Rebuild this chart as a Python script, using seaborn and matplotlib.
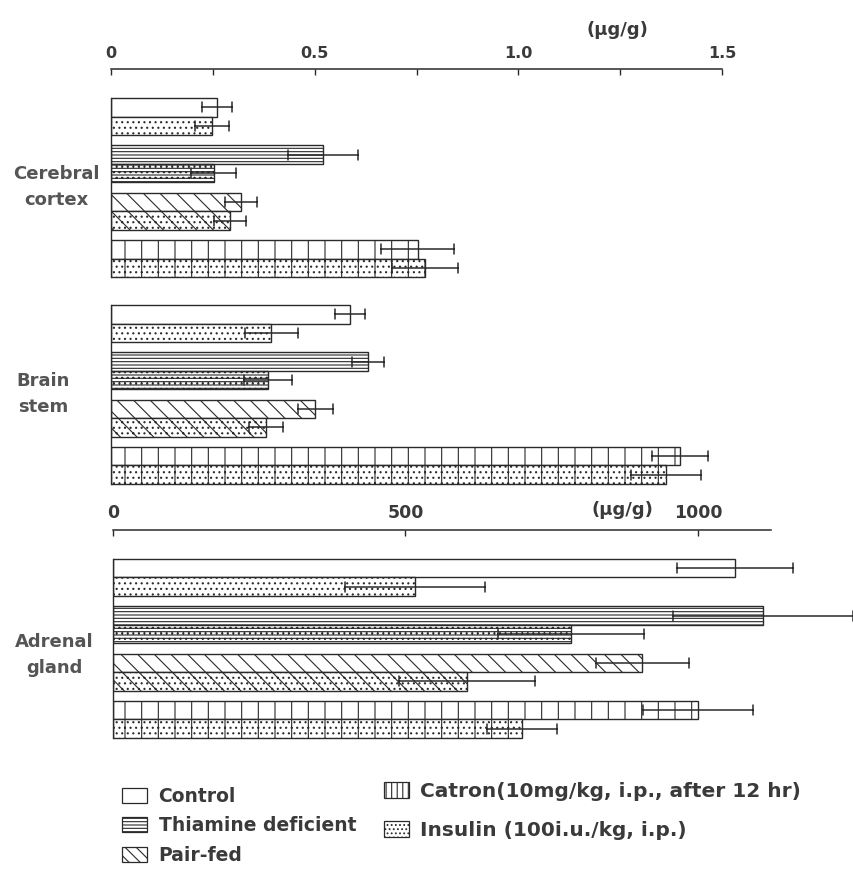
import numpy as np
import pandas as pd
import matplotlib
matplotlib.use("Agg")
import matplotlib.pyplot as plt
import seaborn as sns
from matplotlib.patches import Patch

# ---------------- data ----------------
treatments = ["Control", "Thiamine deficient", "Pair-fed", "Catron"]
insulin_levels = ["none", "Insulin"]

cortex_mean = [0.260, 0.520, 0.320, 0.753]
cortex_se = [0.037, 0.086, 0.039, 0.090]
cortex_ins_mean = [0.247, 0.252, 0.292, 0.770]
cortex_ins_se = [0.042, 0.056, 0.039, 0.081]

stem_mean = [0.586, 0.630, 0.502, 1.397]
stem_se = [0.037, 0.039, 0.042, 0.069]
stem_ins_mean = [0.394, 0.385, 0.380, 1.363]
stem_ins_se = [0.066, 0.059, 0.042, 0.086]

adrenal_mean = [1063, 1111, 905, 1000]
adrenal_se = [99, 154, 80, 94]
adrenal_ins_mean = [516, 783, 605, 699]
adrenal_ins_se = [120, 125, 116, 60]

group_labels = ["Cerebral\ncortex", "Brain\nstem", "Adrenal\ngland"]
top_ticks = [0, 0.5, 1.0, 1.5]
top_ticklabels = ["0", "0.5", "1.0", "1.5"]
top_minor = [0.25, 0.75, 1.25]
bottom_ticks = [0, 500, 1000]
bottom_ticklabels = ["0", "500", "1000"]
unit_label = "(\u03bcg/g)"
legend_left = ["Control", "Thiamine deficient", "Pair-fed"]
legend_right = ["Catron(10mg/kg, i.p., after 12 hr)", "Insulin (100i.u./kg, i.p.)"]

# ---------------- style ----------------
sns.set_theme(style="white")
plt.rcParams["font.family"] = ["DejaVu Sans"]
plt.rcParams["hatch.linewidth"] = 0.8
plt.rcParams["hatch.color"] = "#2a2a2a"
INK = "#2a2a2a"
TXT = "#3a3a3a"

base_hatch = {"Control": "", "Thiamine deficient": "-----", "Pair-fed": "\\\\", "Catron": "|"}
ins_hatch = "..."


def make_df(mean, se, mean_ins, se_ins):
    rows = []
    for lvl, ms, ss in (("none", mean, se), ("Insulin", mean_ins, se_ins)):
        for t, m, s in zip(treatments, ms, ss):
            rows.append((t, lvl, m - s))
            rows.append((t, lvl, m + s))
    return pd.DataFrame(rows, columns=["treatment", "insulin", "value"])


W, H = 854, 876
fig = plt.figure(figsize=(W / 100, H / 100), dpi=100)


def add_axes(left, top, right, bottom):
    return fig.add_axes([left / W, 1 - bottom / H, (right - left) / W, (bottom - top) / H])


ax1 = add_axes(111, 92.8, 722, 282.4)
ax2 = add_axes(111, 300.0, 722, 489.0)
ax3 = add_axes(113, 553.8, 771, 743.1)

panels = [
    (ax1, make_df(cortex_mean, cortex_se, cortex_ins_mean, cortex_ins_se)),
    (ax2, make_df(stem_mean, stem_se, stem_ins_mean, stem_ins_se)),
    (ax3, make_df(adrenal_mean, adrenal_se, adrenal_ins_mean, adrenal_ins_se)),
]

for ax, df in panels:
    sns.barplot(
        data=df, y="treatment", x="value", hue="insulin",
        order=treatments, hue_order=insulin_levels, orient="h",
        estimator="mean", errorbar=("pi", 100), capsize=0.42,
        width=0.78, dodge=True, palette=["white", "white"], saturation=1,
        edgecolor=INK, linewidth=1.0,
        err_kws={"color": INK, "linewidth": 1.1},
        legend=False, ax=ax,
    )
    for h, cont in enumerate(ax.containers):
        for i, bar in enumerate(cont):
            hatch = base_hatch[treatments[i]] + (ins_hatch if h == 1 else "")
            bar.set_hatch(hatch)
            bar.set_edgecolor(INK)
    for ln in ax.lines:
        ln.set_clip_on(False)
        ln.set_zorder(5)
    ax.set_xlabel("")
    ax.set_ylabel("")
    ax.set_yticks([])
    ax.set_ylim(3.5, -0.5)
    ax.patch.set_alpha(0)
    for s in ("right", "bottom"):
        ax.spines[s].set_visible(False)
    ax.spines["left"].set_bounds(-0.39, 3.39)
    ax.spines["left"].set_color(INK)
    ax.spines["left"].set_linewidth(1.0)

for ax in (ax1, ax2):
    ax.set_xlim(0, 1.5)
ax3.set_xlim(0, 1125)

for ax, ticks, labels, fs in ((ax1, top_ticks, top_ticklabels, 11.5),
                              (ax3, bottom_ticks, bottom_ticklabels, 12.5)):
    ax.spines["top"].set_position(("outward", 17))
    ax.spines["top"].set_color(INK)
    ax.spines["top"].set_linewidth(1.1)
    ax.xaxis.set_ticks_position("top")
    ax.set_xticks(ticks)
    ax.set_xticklabels(labels, fontweight="bold", color=TXT)
    ax.tick_params(axis="x", which="both", direction="in", length=4.5, width=1.0,
                   color=INK, pad=6, labelsize=fs, top=True, bottom=False,
                   labeltop=True, labelbottom=False)
ax1.set_xticks(top_minor, minor=True)

ax2.spines["top"].set_visible(False)
ax2.tick_params(axis="x", which="both", top=False, bottom=False,
                labeltop=False, labelbottom=False)

fig.text(617 / W, 1 - 30 / H, unit_label, ha="center", va="center",
         fontsize=13, fontweight="bold", color=TXT)
fig.text(622 / W, 1 - 510 / H, unit_label, ha="center", va="center",
         fontsize=13, fontweight="bold", color=TXT)

for (x, y), lab in zip([(56, 187), (43, 394), (54, 655)], group_labels):
    fig.text(x / W, 1 - y / H, lab, ha="center", va="center", multialignment="center",
             fontsize=13, fontweight="bold", color="#555555", linespacing=1.6)


def handle(h):
    return Patch(facecolor="white", edgecolor=INK, linewidth=0.9, hatch=h)


leg1 = fig.legend([handle(""), handle("-----"), handle("\\\\\\")], legend_left,
                  loc="upper left", bbox_to_anchor=(122 / W, 1 - 787 / H),
                  frameon=False, fontsize=13.5, handlelength=1.35, handleheight=0.85,
                  handletextpad=0.6, labelspacing=0.55, borderpad=0, borderaxespad=0)
for t in leg1.get_texts():
    t.set_color(TXT)
    t.set_fontweight("bold")
leg2 = fig.legend([handle("|||"), handle("....")], legend_right,
                  loc="upper left", bbox_to_anchor=(384 / W, 1 - 782 / H),
                  frameon=False, fontsize=14.5, handlelength=1.25, handleheight=0.8,
                  handletextpad=0.55, labelspacing=1.0, borderpad=0, borderaxespad=0)
for t in leg2.get_texts():
    t.set_color(TXT)
    t.set_fontweight("bold")

fig.savefig("out.png", dpi=100, facecolor="white")
